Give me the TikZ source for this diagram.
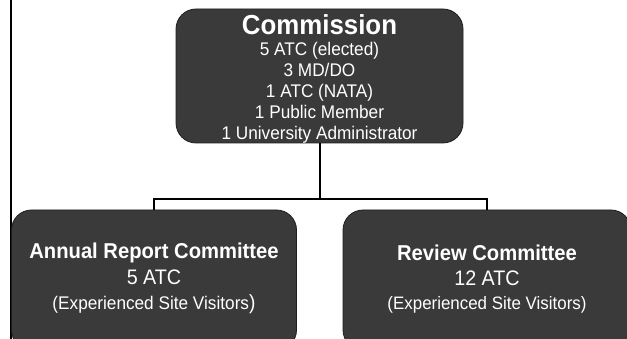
\documentclass[tikz,border=0pt]{standalone}
\usepackage{fontspec}
\usepackage{graphicx}
\setmainfont{Liberation Sans}
\definecolor{boxgray}{HTML}{3A3A3A}
\definecolor{boxedge}{HTML}{1E1E1E}
\newcommand\condtxt[1]{\scalebox{0.94}[1]{#1}}
\begin{document}
\begin{tikzpicture}[x=1pt,y=-1pt,
  box/.style={draw=boxedge, line width=0.8pt, fill=boxgray, rounded corners=20pt, inner sep=0pt},
  conn/.style={draw=black, line width=2pt},
  txt/.style={text=white, anchor=base, inner sep=0pt},
  body/.style={txt, font=\fontsize{18.3}{20}\selectfont},
  head/.style={txt, font=\fontsize{21.5}{24}\selectfont\bfseries}]
\useasboundingbox (0,0) rectangle (627,339);
\clip (0,0) rectangle (627,339);
\fill[white] (0,0) rectangle (627,339);
% left rule
\coordinate (rt) at (11,0);
\coordinate (rb) at (11,339);
\draw[conn] (rt) -- (rb);
% boxes
\node[box, minimum width=287pt, minimum height=134pt] (comm) at (319.5,76) {};
\node[box, minimum width=285pt, minimum height=140pt] (arc) at (154,280) {};
\node[box, minimum width=288pt, minimum height=140pt] (rev) at (487,280) {};
% connectors
\coordinate (bus) at (comm.south |- 0,199.5);
\draw[conn] (comm.south) -- (bus) -| (arc.north);
\draw[conn] (bus) -| (rev.north);
% commission text
\node[txt, font=\fontsize{27.5}{30}\selectfont\bfseries] (ct) at (319.5,35) {\condtxt{Commission}};
\foreach \t [count=\i] in {5 ATC (elected),3 MD/DO,1 ATC (NATA),1 Public Member,1 University Administrator}
  \node[body] (c\i) at (319.5,35+21*\i) {\condtxt{\t}};
% annual report committee
\node[head] (a1) at (154,259) {\condtxt{Annual Report Committee}};
\node[txt, font=\fontsize{21}{24}\selectfont] (a2) at (154,284.5) {\condtxt{5 ATC}};
\node[txt, font=\fontsize{18.3}{20}\selectfont] (a3) at (154,309) {\condtxt{(Experienced Site Visitors{\fontsize{20.5}{20}\selectfont)}}};
% review committee
\node[head] (r1) at (487,261) {\condtxt{Review Committee}};
\node[txt, font=\fontsize{21}{24}\selectfont] (r2) at (487,286) {\condtxt{12 ATC}};
\node[txt, font=\fontsize{18}{20}\selectfont] (r3) at (487,309) {\condtxt{(Experienced Site Visitors)}};
\end{tikzpicture}
\end{document}
